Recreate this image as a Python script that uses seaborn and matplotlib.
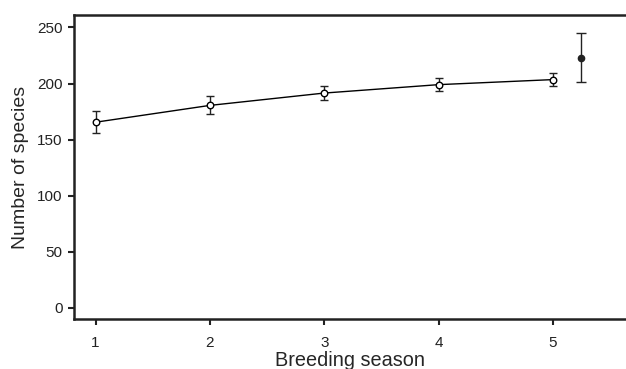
import numpy as np
import pandas as pd
import seaborn as sns
import matplotlib
matplotlib.use('Agg')
import matplotlib.pyplot as plt


# values
seasons = [1, 2, 3, 4, 5]
species = [165.5, 180.5, 191.5, 199, 203.5]
species_err = [10, 8, 6.5, 6, 6]

# extrapolated estimate (filled point)
est_x = [5.25]
est_y = [223]
est_err = [22]

sns.set_theme(style='ticks')
plt.rcParams['font.family'] = ['Liberation Sans', 'DejaVu Sans']

df = pd.DataFrame({'Breeding season': seasons, 'Number of species': species})

fig = plt.figure(figsize=(6.26, 3.69), dpi=100)
ax = fig.add_axes([0.118, 0.1355, 0.882, 0.8235])

sns.lineplot(x='Breeding season', y='Number of species', data=df, color='black', linewidth=1, ax=ax, zorder=1)
ax.errorbar(seasons, species, yerr=species_err, fmt='none', ecolor='#222222', elinewidth=1, capsize=3, capthick=1, zorder=2)
sns.scatterplot(x='Breeding season', y='Number of species', data=df, marker='o', s=22, color='white', edgecolor='black', linewidth=1, ax=ax, zorder=3)
ax.errorbar(est_x, est_y, yerr=est_err, fmt='o', color='#222222', markersize=4.5, elinewidth=1, capsize=3.5, capthick=1, zorder=3)

ax.set_xlim(0.81, 5.64)
ax.set_ylim(-10, 261)
ax.set_xticks(seasons)
ax.set_yticks([0, 50, 100, 150, 200, 250])
ax.tick_params(axis='both', labelsize=11, width=1.5, length=4, color='#222222', labelcolor='#222222')
ax.tick_params(axis='x', pad=8)
ax.tick_params(axis='y', pad=4)
ax.set_xlabel('Breeding season', fontsize=14.3, labelpad=1)
ax.set_ylabel('Number of species', fontsize=14, labelpad=6)

for side in ['left', 'bottom', 'top']:
    ax.spines[side].set_linewidth(1.8)
    ax.spines[side].set_color('#222222')
ax.spines['right'].set_visible(False)

plt.savefig('out.png', dpi=100)
